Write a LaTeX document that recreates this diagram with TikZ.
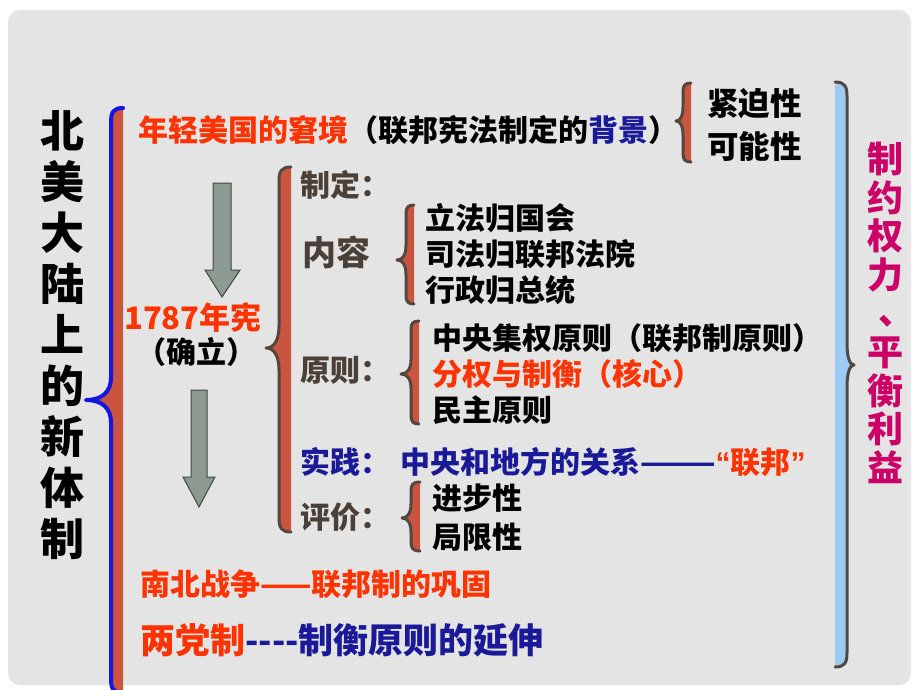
\documentclass[tikz,border=0pt]{standalone}
\usepackage{fontspec}
\setmainfont{Liberation Sans}
\newfontfamily\cjk{Noto Sans CJK SC}
\newfontfamily\latn{Liberation Sans}
\definecolor{bggray}{HTML}{E4E4E4}
\definecolor{redor}{HTML}{FF3300}
\definecolor{bandred}{HTML}{C9553F}
\definecolor{darkline}{HTML}{54473F}
\definecolor{bluebrace}{HTML}{1414E6}
\definecolor{lightblue}{HTML}{9CCCF5}
\definecolor{arrowfill}{HTML}{8C9A92}
\definecolor{arrowline}{HTML}{3E4A44}
\definecolor{navy}{HTML}{1A1A99}
\definecolor{headgray}{HTML}{4A4038}
\definecolor{magen}{HTML}{CC0066}
% #1 point x, #2 stem x, #3 tip x, #4 top y, #5 mid y, #6 bottom y, #7 line, #8 fill, #9 radius
\newcommand{\mybracedraw}[9]{%
  \fill[#8] (#3,#4) .. controls ({#2+0.2*(#3-#2)},#4) and (#2,{#4+0.3*#9}) .. (#2,#4+#9) -- (#2,{#5-1.6*#9})
    .. controls (#2,{#5-0.6*#9}) and ({#2-0.35*(#2-#1)},#5) .. (#1,#5)
    .. controls ({#2-0.35*(#2-#1)},#5) and (#2,{#5+0.6*#9}) .. (#2,{#5+1.6*#9}) -- (#2,#6-#9)
    .. controls (#2,{#6-0.3*#9}) and ({#2+0.2*(#3-#2)},#6) .. (#3,#6) -- cycle;
  \draw[#7, line cap=round, line join=round] (#3,#4) .. controls ({#2+0.2*(#3-#2)},#4) and (#2,{#4+0.3*#9}) .. (#2,#4+#9) -- (#2,{#5-1.6*#9})
    .. controls (#2,{#5-0.6*#9}) and ({#2-0.35*(#2-#1)},#5) .. (#1,#5)
    .. controls ({#2-0.35*(#2-#1)},#5) and (#2,{#5+0.6*#9}) .. (#2,{#5+1.6*#9}) -- (#2,#6-#9)
    .. controls (#2,{#6-0.3*#9}) and ({#2+0.2*(#3-#2)},#6) .. (#3,#6);
}
\tikzset{
  txt/.style={inner sep=0pt, anchor=west, font=\cjk\bfseries\fontsize{30}{36}\selectfont, align=left},
  blockarrow/.style={fill=arrowfill, draw=arrowline, line width=1pt, line join=miter},
}
\begin{document}
\begin{tikzpicture}[x=1pt,y=-1pt]
\useasboundingbox (0,0) rectangle (920,690);
\fill[white] (0,0) rectangle (920,690);
\begin{scope}
\clip (0,0) rectangle (920,690);
\fill[bggray, rounded corners=12pt] (8,10) rectangle (911,685);

% braces
\mybracedraw{86}{111}{123}{108}{400}{693}{bluebrace, line width=4pt}{bandred}{14}
\mybracedraw{676}{683}{691}{83}{121}{162}{darkline, line width=3pt}{bandred}{9}
\mybracedraw{266}{279}{291}{167}{348}{532}{darkline, line width=3pt}{bandred}{14}
\mybracedraw{397}{406}{414}{205}{260}{304}{darkline, line width=3pt}{bandred}{9}
\mybracedraw{401}{411}{419}{321}{374}{424}{darkline, line width=3pt}{bandred}{9}
\mybracedraw{402}{411}{420}{482}{518}{551}{darkline, line width=3pt}{bandred}{9}
\mybracedraw{854}{847}{835}{82}{365}{667}{darkline, line width=3pt}{lightblue}{14}
\end{scope}

% block arrows
\draw[blockarrow] (213,183) -- (231,183) -- (231,270) -- (240,270) -- (222,297) -- (205,270) -- (213,270) -- cycle;
\draw[blockarrow] (191,390) -- (207,390) -- (207,477) -- (215,477) -- (199,507) -- (183,477) -- (191,477) -- cycle;

% title
\node[inner sep=0pt, align=center, font=\cjk\bfseries\fontsize{44}{51}\selectfont] (title) at (62,335)
  {北\\美\\大\\陆\\上\\的\\新\\体\\制};
% right text
\node[inner sep=0pt, align=center, text=magen, font=\cjk\bfseries\fontsize{36}{38.6}\selectfont] (goal) at (885,313)
  {制\\约\\权\\力\\\makebox[36pt][l]{\hspace{11pt}\raisebox{3pt}{、}}\\平\\衡\\利\\益};

\node[txt] (bg) at (138,130) {\textcolor{redor}{年轻美国的窘境}（联邦宪法制定的\textcolor{navy}{背景}）};
\node[txt, font=\cjk\bfseries\fontsize{31.5}{43}\selectfont] (urg) at (707,124.5) {紧迫性\\可能性};

\node[txt, font=\cjk\bfseries\fontsize{31}{36}\selectfont, text=redor] (y1787) at (124,318) {1787年宪};
\node[txt] (est) at (136,352) {（确立）};

\node[txt, text=headgray] (zd) at (300,185) {制定：};
\node[txt, text=headgray, font=\cjk\bfseries\fontsize{34}{36}\selectfont] (nr) at (302,252) {内容};
\node[txt] (nrl) at (425,254) {立法归国会\\司法归联邦法院\\行政归总统};

\node[txt, text=headgray] (yz) at (300,370) {原则：};
\node[txt] (yzl) at (432,374) {中央集权原则（联邦制原则）\\\textcolor{redor}{分权与制衡（核心）}\\民主原则};

\node[txt, text=navy] (sj) at (300,462) {实践：\hspace{10pt}中央和地方的关系———\textcolor{redor}{{\latn\bfseries“}联邦{\latn\bfseries”}}};

\node[txt, text=headgray] (pj) at (300,517) {评价：};
\node[txt, font=\cjk\bfseries\fontsize{30}{39}\selectfont] (pjl) at (432,517.5) {进步性\\局限性};

\node[txt] (nb) at (140,584) {\textcolor{redor}{南北战争——联邦制的巩固}};
\node[txt, font=\cjk\bfseries\fontsize{35}{40}\selectfont, text=navy] (ldz) at (140,640) {\textcolor{redor}{两党制}----制衡原则的延伸};
\end{tikzpicture}
\end{document}
